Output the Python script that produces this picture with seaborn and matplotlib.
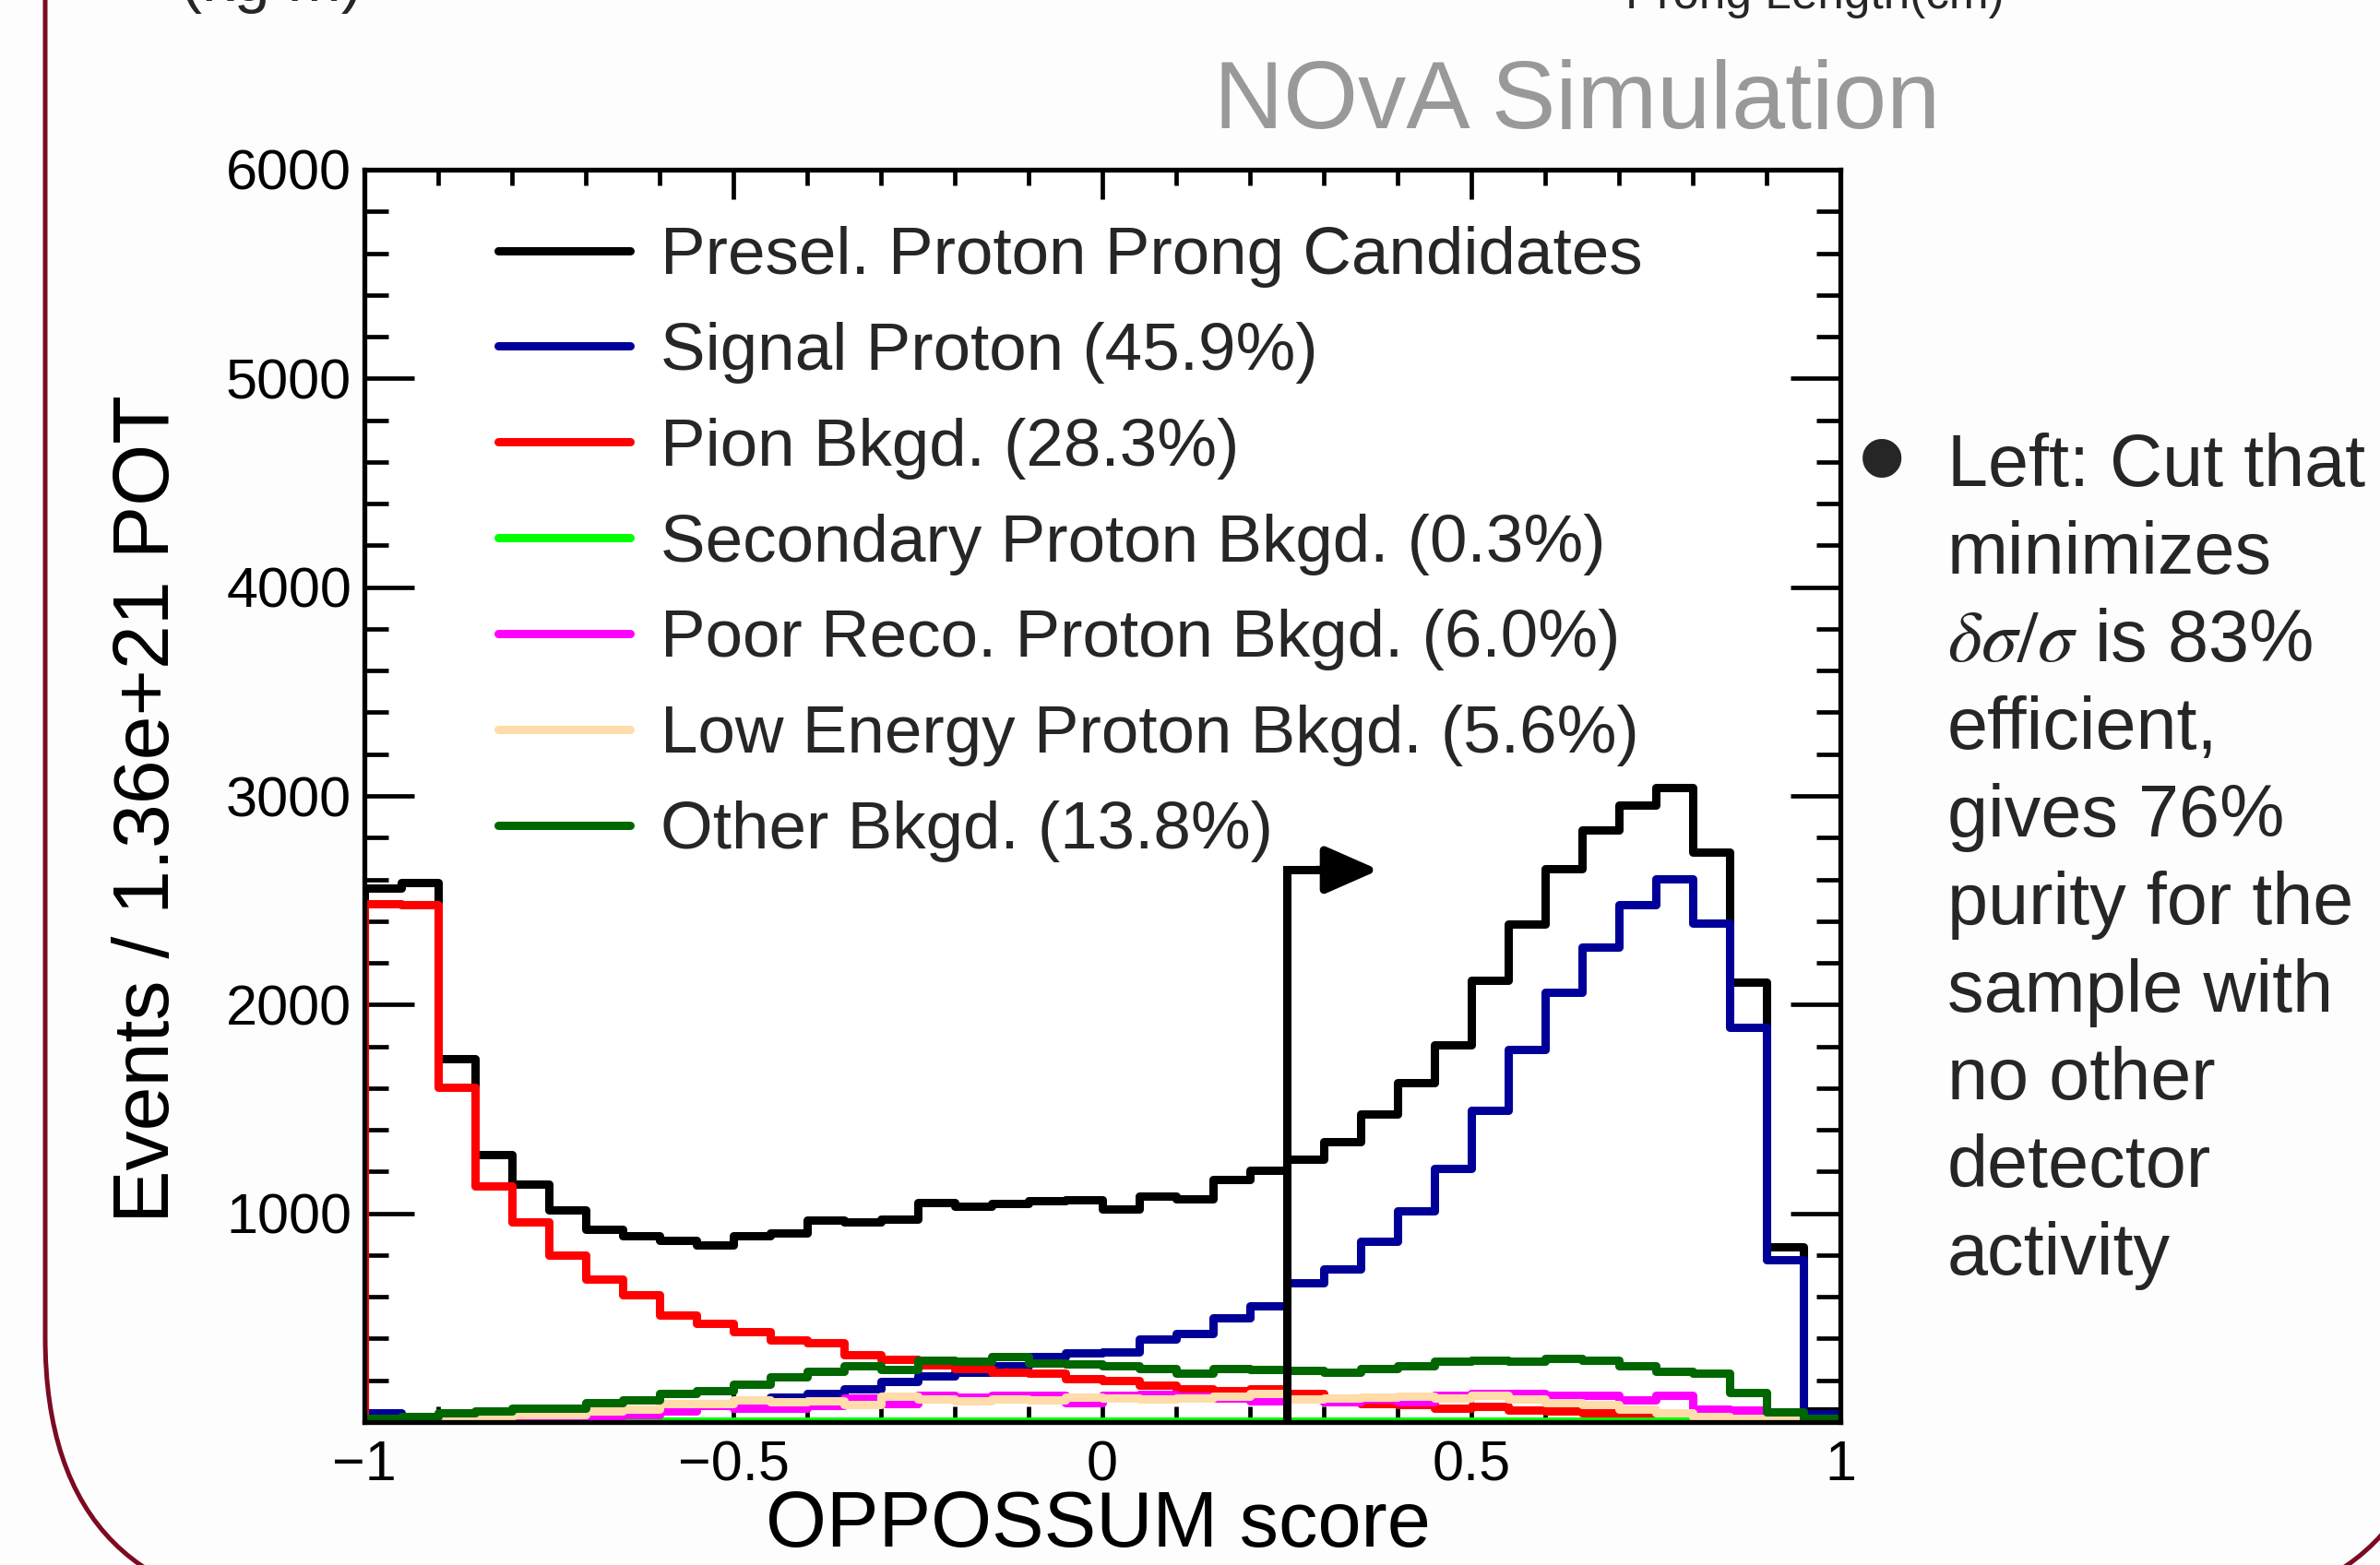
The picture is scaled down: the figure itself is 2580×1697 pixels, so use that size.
import numpy as np
import pandas as pd
import matplotlib
matplotlib.use("Agg")
import matplotlib.pyplot as plt
import seaborn as sns
from matplotlib.lines import Line2D
from matplotlib.patches import FancyBboxPatch
from matplotlib.ticker import FixedLocator, MultipleLocator

# OPPOSSUM score histogram, 40 bins of 0.05 between -1 and 1
bin_low = -1.0
bin_width = 0.05

presel = [2560, 2585, 1742, 1280, 1140, 1015, 925, 892, 870, 850,
          892, 907, 967, 960, 974, 1053, 1032, 1047, 1060, 1064,
          1021, 1081, 1069, 1161, 1208, 1258, 1344, 1477, 1628, 1806,
          2118, 2387, 2649, 2838, 2956, 3038, 2730, 2107, 839, 55]
signal = [43, 25, 28, 30, 35, 40, 50, 58, 75, 85,
          100, 120, 135, 157, 194, 223, 238, 268, 312, 330,
          334, 397, 423, 500, 556, 667, 734, 864, 1010, 1215,
          1494, 1785, 2060, 2275, 2477, 2602, 2391, 1892, 776, 40]
pion = [2483, 2477, 1602, 1129, 957, 800, 687, 608, 512, 471,
        435, 394, 382, 323, 302, 275, 258, 238, 234, 209,
        197, 175, 160, 152, 157, 138, 95, 90, 83, 68,
        75, 58, 53, 46, 36, 24, 12, 5, 3, 0]
secondary = [3, 5, 6, 6, 6, 6, 6, 6, 6, 6,
             6, 6, 6, 6, 6, 6, 6, 6, 6, 6,
             6, 6, 6, 6, 6, 6, 6, 6, 6, 6,
             6, 6, 6, 6, 6, 5, 2, 1, 0, 0]
poor_reco = [5, 8, 13, 16, 21, 27, 31, 36, 53, 80,
             65, 68, 80, 117, 89, 130, 120, 130, 127, 93,
             130, 132, 125, 115, 101, 110, 98, 110, 95, 130,
             135, 135, 130, 130, 105, 127, 61, 56, 15, 3]
low_energy = [3, 6, 16, 21, 36, 36, 53, 61, 87, 87,
              105, 95, 101, 86, 123, 112, 101, 110, 105, 120,
              115, 110, 117, 123, 135, 112, 117, 120, 123, 117,
              130, 112, 93, 86, 61, 46, 27, 16, 9, 3]
other = [16, 27, 43, 53, 68, 68, 92, 105, 139, 152,
         183, 216, 243, 268, 253, 297, 290, 312, 283, 278,
         268, 258, 235, 258, 250, 246, 238, 258, 268, 290,
         294, 290, 305, 297, 268, 243, 234, 142, 49, 16]

series_labels = ["Presel. Proton Prong Candidates",
                 "Signal Proton (45.9%)",
                 "Pion Bkgd. (28.3%)",
                 "Secondary Proton Bkgd. (0.3%)",
                 "Poor Reco. Proton Bkgd. (6.0%)",
                 "Low Energy Proton Bkgd. (5.6%)",
                 "Other Bkgd. (13.8%)"]
series_colors = ["#000000", "#000099", "#ff0000", "#00ff00",
                 "#ff00ff", "#ffdcaa", "#006600"]

cut_value = 0.25
cut_height = 2645
arrow_tip = 0.375

x_ticks = [-1, -0.5, 0, 0.5, 1]
x_tick_labels = ["\u22121", "\u22120.5", "0", "0.5", "1"]
y_ticks = [1000, 2000, 3000, 4000, 5000, 6000]

bullet_lines = ["Left: Cut that", "minimizes",
                r"$\delta\sigma/\sigma$ is 83%", "efficient,",
                "gives 76%", "purity for the", "sample with",
                "no other", "detector", "activity"]

sns.set_theme(style="ticks")
plt.rcParams["font.family"] = ["Liberation Sans", "DejaVu Sans"]
plt.rcParams["mathtext.fontset"] = "stix"

W, H = 2580, 1697
fig = plt.figure(figsize=(W / 100, H / 100), dpi=100, facecolor="#fdfdfd")


def fx(px):
    return px / W


def fy(py):
    return 1 - py / H


ax = fig.add_axes([fx(395), fy(1542), fx(1995) - fx(395), fy(184) - fy(1542)])
ax.set_facecolor("white")

n_bins = len(presel)
# pad one empty bin each side so the outline drops to zero at the edges
edges = bin_low - bin_width + bin_width * np.arange(n_bins + 3)
centers = edges[:-1] + bin_width / 2
edge_list = [float(e) for e in edges]

all_series = [presel, signal, pion, secondary, poor_reco, low_energy, other]
line_w = 6.5
for values, color in zip(all_series, series_colors):
    df = pd.DataFrame({
        "score": centers,
        "events": np.concatenate([[0], values, [0]]).astype(float),
    })
    sns.histplot(data=df, x="score", weights="events", bins=edge_list, element="step",
                 fill=False, color=color, linewidth=line_w, ax=ax)

# cut marker
ax.plot([cut_value, cut_value, cut_value + 0.05], [0, cut_height, cut_height],
        color="black", lw=line_w, solid_joinstyle="miter", zorder=5)
ax.annotate("", xy=(arrow_tip, cut_height), xytext=(cut_value + 0.04, cut_height),
            arrowprops=dict(arrowstyle="-|>,head_length=0.5,head_width=0.22",
                            mutation_scale=70, color="black", lw=line_w,
                            shrinkA=0, shrinkB=0), zorder=5)

ax.set_xlim(-1, 1)
ax.set_ylim(0, 6000)
ax.xaxis.set_major_locator(FixedLocator(x_ticks))
ax.set_xticklabels(x_tick_labels)
ax.xaxis.set_minor_locator(MultipleLocator(0.1))
ax.yaxis.set_major_locator(FixedLocator(y_ticks))
ax.yaxis.set_minor_locator(MultipleLocator(200))

for side in ["top", "bottom", "left", "right"]:
    ax.spines[side].set_linewidth(3.8)
    ax.spines[side].set_color("black")
    ax.spines[side].set_zorder(6)

ax.tick_params(axis="both", which="both", direction="in", top=True, right=True,
               width=3.4, color="black", labelsize=44, labelcolor="black")
ax.tick_params(axis="y", which="major", length=39, pad=10)
ax.tick_params(axis="y", which="minor", length=19)
ax.tick_params(axis="x", which="major", length=23, pad=14)
ax.tick_params(axis="x", which="minor", length=12)

ax.set_xlabel("OPPOSSUM score", fontsize=61, color="black")
ax.set_ylabel("Events / 1.36e+21 POT", fontsize=62, color="black")
ax.xaxis.set_label_coords(0.497, -0.054)
ax.yaxis.set_label_coords(-0.121, 0.49)

handles = [Line2D([], [], color=c, lw=line_w) for c in series_colors]
ax.legend(handles, series_labels, loc="upper left", bbox_to_anchor=(0.0906, 0.955),
          frameon=False, fontsize=52.5, handlelength=1.96, handletextpad=0.45,
          labelspacing=0.505, borderpad=0, borderaxespad=0)

fig.text(fx(1316), fy(139), "NOvA Simulation", fontsize=75, color="#999999",
         ha="left", va="baseline")

# fragments of neighbouring slide content cut at the top edge
fig.text(fx(196), fy(1), "(kg m)", fontsize=50, ha="left", va="baseline")
fig.text(fx(1762), fy(9), "Prong Length(cm)", fontsize=37, ha="left", va="baseline")

fig.text(fx(2040), fy(508), "\u2022", fontsize=112, ha="center", va="center")
for i, line in enumerate(bullet_lines):
    fig.text(fx(2111), fy(527 + 95 * i), line, fontsize=57, ha="left", va="baseline")

frame = FancyBboxPatch((0.49, -0.5), 25.99, 60.0,
                       boxstyle="round,pad=0,rounding_size=2.97",
                       transform=fig.dpi_scale_trans, fill=False,
                       edgecolor="#7b0a22", linewidth=3.6)
fig.add_artist(frame)

fig.savefig("out.png", dpi=100, facecolor=fig.get_facecolor())
